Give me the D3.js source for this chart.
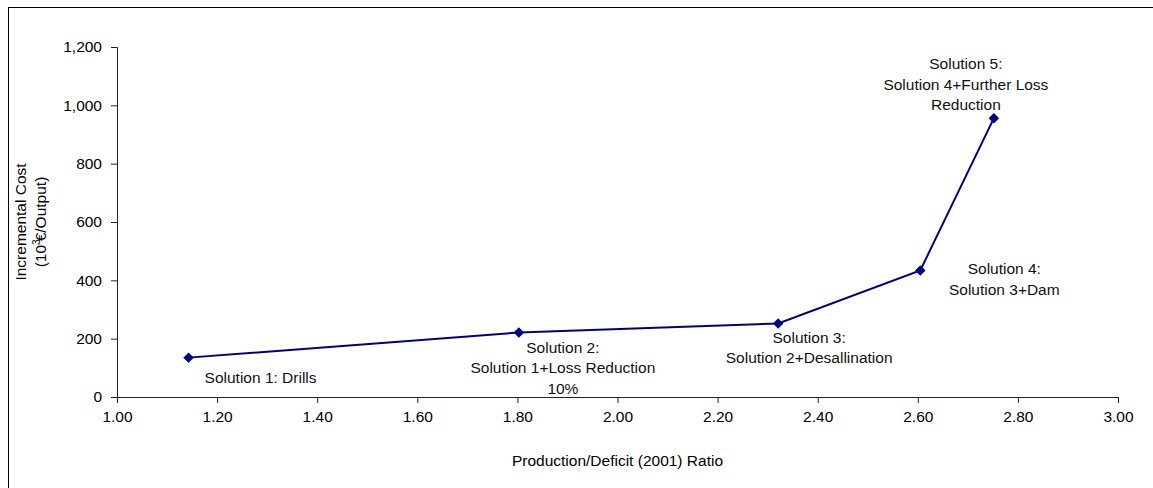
<!DOCTYPE html>
<html lang="en">
<head>
  <meta charset="UTF-8">
  <title>Incremental Cost vs Production/Deficit Ratio</title>
  <style>
    body { margin: 0; background: #fff; }
    svg { display: block; font-family: "Liberation Sans", Arial, sans-serif; }
  </style>
</head>
<body>
  <svg class="chart"></svg>
  <script src="https://cdn.jsdelivr.net/npm/d3@7"></script>
  <script>
    // data
    var ratios = [1.143, 1.803, 2.321, 2.605, 2.752];
    var costs = [135, 221, 252, 434, 956];
    var labels = [
      ["Solution 1: Drills"],
      ["Solution 2:", "Solution 1+Loss Reduction", "10%"],
      ["Solution 3:", "Solution 2+Desallination"],
      ["Solution 4:", "Solution 3+Dam"],
      ["Solution 5:", "Solution 4+Further Loss", "Reduction"]
    ];
    // label offsets from each point (dx, dy of first line centre)
    var labelOffsets = [[72, 20], [44, 15], [31, 14], [84, -1], [-28, -54]];
    var xTicks = [1.0, 1.2, 1.4, 1.6, 1.8, 2.0, 2.2, 2.4, 2.6, 2.8, 3.0];
    var yTicks = [0, 200, 400, 600, 800, 1000, 1200];

    var width = 1153, height = 488;
    var fontSize = 15.5;

    var svg = d3.select('svg')
      .attr('width', width)
      .attr('height', height);

    // outer chart border (right/bottom fall outside the picture)
    svg.append('rect')
      .attr('x', 8.5).attr('y', 7.5)
      .attr('width', 1200).attr('height', 600)
      .attr('fill', 'none').attr('stroke', '#000');

    var xScale = d3.scaleLinear().domain([1, 3]).range([117, 1118]);
    var yScale = d3.scaleLinear().domain([0, 1200]).range([397, 47]);

    var xAxis = svg.append('g')
      .attr('transform', 'translate(0,' + yScale(0) + ')')
      .call(d3.axisBottom(xScale)
        .tickValues(xTicks)
        .tickSize(6)
        .tickPadding(8)
        .tickFormat(d3.format('.2f')));

    var yAxis = svg.append('g')
      .attr('transform', 'translate(' + xScale(1) + ',0)')
      .call(d3.axisLeft(yScale)
        .tickValues(yTicks)
        .tickSize(6)
        .tickPadding(9)
        .tickFormat(d3.format(',')));

    svg.selectAll('.tick text')
      .attr('font-size', fontSize)
      .attr('font-family', '"Liberation Sans", Arial, sans-serif')
      .attr('fill', '#000');
    svg.selectAll('.domain, .tick line').attr('stroke', '#222');

    // axis titles
    svg.append('text')
      .attr('x', (xScale(1) + xScale(3)) / 2)
      .attr('y', 466)
      .attr('text-anchor', 'middle')
      .attr('font-size', fontSize)
      .text('Production/Deficit (2001) Ratio');

    var yMid = (yScale(0) + yScale(1200)) / 2;
    var yTitle = svg.append('text')
      .attr('transform', 'translate(26,' + yMid + ') rotate(-90)')
      .attr('text-anchor', 'middle')
      .attr('font-size', fontSize);
    yTitle.append('tspan').attr('x', 0).attr('y', 0).text('Incremental Cost');
    var l2 = yTitle.append('tspan').attr('x', 0).attr('y', 20).text('(10');
    l2.append('tspan').attr('font-size', 10).attr('dy', -6).text('3');
    l2.append('tspan').attr('dy', 6).attr('dx', -2).text('€/Output)');

    // line + markers
    var points = ratios.map(function (r, i) { return [r, costs[i]]; });
    var line = d3.line()
      .x(function (d) { return xScale(d[0]); })
      .y(function (d) { return yScale(d[1]); });

    svg.append('path')
      .datum(points)
      .attr('d', line)
      .attr('fill', 'none')
      .attr('stroke', '#000080')
      .attr('stroke-width', 2);

    svg.selectAll('.marker')
      .data(points)
      .enter()
      .append('path')
      .attr('class', 'marker')
      .attr('d', d3.symbol().type(d3.symbolDiamond2).size(70))
      .attr('transform', function (d) {
        return 'translate(' + xScale(d[0]) + ',' + yScale(d[1]) + ')';
      })
      .attr('fill', '#000080');

    // data labels
    svg.selectAll('.dlabel')
      .data(points)
      .enter()
      .append('text')
      .attr('class', 'dlabel')
      .attr('text-anchor', 'middle')
      .attr('font-size', fontSize)
      .attr('fill', '#111')
      .each(function (d, i) {
        var t = d3.select(this);
        var cx = xScale(d[0]) + labelOffsets[i][0];
        var cy = yScale(d[1]) + labelOffsets[i][1];
        labels[i].forEach(function (s, j) {
          t.append('tspan')
            .attr('x', cx)
            .attr('y', cy + j * 20.5 + 5)
            .text(s);
        });
      });
  </script>
</body>
</html>
